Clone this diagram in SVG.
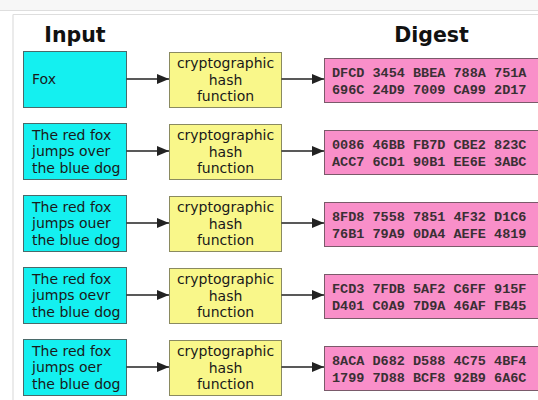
<svg xmlns="http://www.w3.org/2000/svg" width="538" height="400" viewBox="0 0 538 400">
  <defs>
    <marker id="arrow" viewBox="0 0 12 10" refX="12" refY="5" markerWidth="12" markerHeight="10" markerUnits="userSpaceOnUse" orient="auto">
      <path d="M0,0 L12,5 L0,10 Z" fill="#222"/>
    </marker>
    <style>
      .frame { stroke: #dedede; stroke-width: 1.2; fill: none; }
      .input { fill: #14f0f0; stroke: #4a6a6a; stroke-width: 1; }
      .hash { fill: #f9f78a; stroke: #8a8a60; stroke-width: 1; }
      .digest { fill: #f98fc9; stroke: #7a5a6a; stroke-width: 1; }
      .title { font-family: "DejaVu Sans", sans-serif; font-weight: bold; font-size: 20.5px; fill: #111; text-anchor: middle; }
      .label { font-family: "DejaVu Sans", sans-serif; font-size: 14px; fill: #1a1a1a; }
      .center { text-anchor: middle; }
      .hex { font-family: "Liberation Mono", "DejaVu Sans Mono", monospace; font-weight: bold; font-size: 13.5px; fill: #3a3034; }
      .edge { stroke: #222; stroke-width: 1.3; fill: none; marker-end: url(#arrow); }
    </style>
  </defs>

  <!-- page background and panel border -->
  <rect x="0" y="0" width="538" height="400" fill="#ffffff"/>
  <rect x="0" y="0" width="538" height="10" fill="#f7f7f7"/>
  <line class="frame" x1="0" y1="10.5" x2="538" y2="10.5"/>
  <line class="frame" x1="13" y1="14.5" x2="538" y2="14.5"/>
  <line class="frame" x1="13" y1="14.5" x2="13" y2="400"/>

  <!-- column headings -->
  <text class="title" x="75" y="42">Input</text>
  <text class="title" x="431.5" y="42">Digest</text>

  <!-- row 1 -->
  <g id="input-1">
    <rect class="input" x="23.5" y="51.5" width="103" height="56"/>
    <text class="label" x="32" y="84">Fox</text>
  </g>
  <g id="hash-1">
    <rect class="hash" x="169.5" y="52.5" width="112" height="55"/>
    <text class="label center" x="225.5" y="68">cryptographic</text>
    <text class="label center" x="225.5" y="84.5">hash</text>
    <text class="label center" x="225.5" y="101">function</text>
  </g>
  <g id="digest-1">
    <rect class="digest" x="324.5" y="58.5" width="216" height="44"/>
    <text class="hex" x="332" y="76.5">DFCD 3454 BBEA 788A 751A</text>
    <text class="hex" x="332" y="93.5">696C 24D9 7009 CA99 2D17</text>
  </g>

  <!-- row 2 -->
  <g id="input-2">
    <rect class="input" x="23.5" y="123.5" width="103" height="56"/>
    <text class="label" x="32" y="139.5">The red fox</text>
    <text class="label" x="32" y="156">jumps over</text>
    <text class="label" x="32" y="172.5">the blue dog</text>
  </g>
  <g id="hash-2">
    <rect class="hash" x="169.5" y="124.5" width="112" height="55"/>
    <text class="label center" x="225.5" y="140">cryptographic</text>
    <text class="label center" x="225.5" y="156.5">hash</text>
    <text class="label center" x="225.5" y="173">function</text>
  </g>
  <g id="digest-2">
    <rect class="digest" x="324.5" y="130.5" width="216" height="44"/>
    <text class="hex" x="332" y="148.5">0086 46BB FB7D CBE2 823C</text>
    <text class="hex" x="332" y="165.5">ACC7 6CD1 90B1 EE6E 3ABC</text>
  </g>

  <!-- row 3 -->
  <g id="input-3">
    <rect class="input" x="23.5" y="195.5" width="103" height="56"/>
    <text class="label" x="32" y="211.5">The red fox</text>
    <text class="label" x="32" y="228">jumps ouer</text>
    <text class="label" x="32" y="244.5">the blue dog</text>
  </g>
  <g id="hash-3">
    <rect class="hash" x="169.5" y="196.5" width="112" height="55"/>
    <text class="label center" x="225.5" y="212">cryptographic</text>
    <text class="label center" x="225.5" y="228.5">hash</text>
    <text class="label center" x="225.5" y="245">function</text>
  </g>
  <g id="digest-3">
    <rect class="digest" x="324.5" y="202.5" width="216" height="44"/>
    <text class="hex" x="332" y="220.5">8FD8 7558 7851 4F32 D1C6</text>
    <text class="hex" x="332" y="237.5">76B1 79A9 0DA4 AEFE 4819</text>
  </g>

  <!-- row 4 -->
  <g id="input-4">
    <rect class="input" x="23.5" y="267.5" width="103" height="56"/>
    <text class="label" x="32" y="283.5">The red fox</text>
    <text class="label" x="32" y="300">jumps oevr</text>
    <text class="label" x="32" y="316.5">the blue dog</text>
  </g>
  <g id="hash-4">
    <rect class="hash" x="169.5" y="268.5" width="112" height="55"/>
    <text class="label center" x="225.5" y="284">cryptographic</text>
    <text class="label center" x="225.5" y="300.5">hash</text>
    <text class="label center" x="225.5" y="317">function</text>
  </g>
  <g id="digest-4">
    <rect class="digest" x="324.5" y="274.5" width="216" height="44"/>
    <text class="hex" x="332" y="292.5">FCD3 7FDB 5AF2 C6FF 915F</text>
    <text class="hex" x="332" y="309.5">D401 C0A9 7D9A 46AF FB45</text>
  </g>

  <!-- row 5 -->
  <g id="input-5">
    <rect class="input" x="23.5" y="339.5" width="103" height="56"/>
    <text class="label" x="32" y="355.5">The red fox</text>
    <text class="label" x="32" y="372">jumps oer</text>
    <text class="label" x="32" y="388.5">the blue dog</text>
  </g>
  <g id="hash-5">
    <rect class="hash" x="169.5" y="340.5" width="112" height="55"/>
    <text class="label center" x="225.5" y="356">cryptographic</text>
    <text class="label center" x="225.5" y="372.5">hash</text>
    <text class="label center" x="225.5" y="389">function</text>
  </g>
  <g id="digest-5">
    <rect class="digest" x="324.5" y="346.5" width="216" height="44"/>
    <text class="hex" x="332" y="364.5">8ACA D682 D588 4C75 4BF4</text>
    <text class="hex" x="332" y="381.5">1799 7D88 BCF8 92B9 6A6C</text>
  </g>

  <!-- connectors -->
  <g id="connectors">
    <line class="edge" x1="126.5" y1="79" x2="169" y2="79"/>
    <line class="edge" x1="281.5" y1="79" x2="324" y2="79"/>
    <line class="edge" x1="126.5" y1="151" x2="169" y2="151"/>
    <line class="edge" x1="281.5" y1="151" x2="324" y2="151"/>
    <line class="edge" x1="126.5" y1="223" x2="169" y2="223"/>
    <line class="edge" x1="281.5" y1="223" x2="324" y2="223"/>
    <line class="edge" x1="126.5" y1="295" x2="169" y2="295"/>
    <line class="edge" x1="281.5" y1="295" x2="324" y2="295"/>
    <line class="edge" x1="126.5" y1="367" x2="169" y2="367"/>
    <line class="edge" x1="281.5" y1="367" x2="324" y2="367"/>
  </g>
</svg>
